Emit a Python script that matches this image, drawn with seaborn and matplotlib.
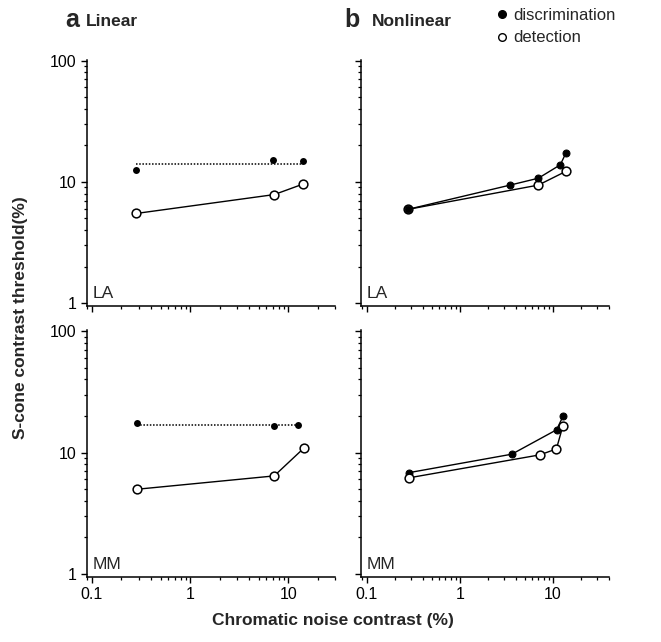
import numpy as np
import pandas as pd
import matplotlib
matplotlib.use('Agg')
import matplotlib.pyplot as plt
import seaborn as sns
from matplotlib.ticker import FuncFormatter, LogLocator, NullFormatter
from matplotlib.lines import Line2D

# ---------------- data ----------------
la_lin_disc_x = [0.283, 7.08, 14.3]
la_lin_disc_y = [12.4, 15.1, 14.7]
la_lin_fit_x = [0.283, 14.3]
la_lin_fit_y = [13.9, 13.9]
la_lin_det_x = [0.283, 7.2, 14.3]
la_lin_det_y = [5.48, 7.84, 9.6]

la_non_disc_x = [0.277, 3.47, 6.97, 12.0, 13.8]
la_non_disc_y = [5.92, 9.39, 10.7, 13.8, 17.3]
la_non_det_x = [0.277, 6.97, 13.8]
la_non_det_y = [5.92, 9.39, 12.2]

mm_lin_disc_x = [0.291, 7.2, 12.6]
mm_lin_disc_y = [17.5, 16.4, 16.8]
mm_lin_fit_x = [0.291, 12.6]
mm_lin_fit_y = [16.9, 16.9]
mm_lin_det_x = [0.291, 7.2, 14.5]
mm_lin_det_y = [4.99, 6.42, 10.9]

mm_non_disc_x = [0.288, 3.62, 10.96, 12.8]
mm_non_disc_y = [6.84, 9.69, 15.4, 19.8]
mm_non_det_x = [0.288, 7.25, 10.9, 12.8]
mm_non_det_y = [6.2, 9.57, 10.7, 16.6]

x_ticks = [0.1, 1, 10]
y_ticks = [1, 10, 100]

sns.set_style('ticks')
plt.rcParams['font.family'] = ['Liberation Sans', 'DejaVu Sans']

W, H = 661, 642
fig = plt.figure(figsize=(W / 100, H / 100), dpi=100)


def ax_at(x0, y0, x1, y1):
    return fig.add_axes([x0 / W, 1 - y1 / H, (x1 - x0) / W, (y1 - y0) / H])


axes = {
    'la_lin': ax_at(87, 59.5, 335, 306),
    'la_non': ax_at(361, 59.5, 609, 306),
    'mm_lin': ax_at(87, 330, 335, 577),
    'mm_non': ax_at(361, 330, 609, 577),
}

LW = 1.0
OPEN_MS = 6.3
FILL_MS = 5.0


def det_line(ax, x, y, z=3):
    df = pd.DataFrame({'x': x, 'y': y})
    sns.lineplot(data=df, x='x', y='y', ax=ax, sort=False, estimator=None,
                 color='black', lw=LW, marker='o', markersize=OPEN_MS,
                 markerfacecolor='white', markeredgecolor='black',
                 markeredgewidth=1.1, zorder=z)


def disc_line(ax, x, y, z=3):
    df = pd.DataFrame({'x': x, 'y': y})
    sns.lineplot(data=df, x='x', y='y', ax=ax, sort=False, estimator=None,
                 color='black', lw=LW, marker='o', markersize=FILL_MS,
                 markerfacecolor='black', markeredgecolor='black', zorder=z)


def disc_points(ax, x, y):
    df = pd.DataFrame({'x': x, 'y': y})
    sns.scatterplot(data=df, x='x', y='y', ax=ax, color='black', s=FILL_MS ** 2,
                    edgecolor='black', linewidth=0, zorder=4)


def fit_line(ax, x, y):
    df = pd.DataFrame({'x': x, 'y': y})
    sns.lineplot(data=df, x='x', y='y', ax=ax, sort=False, estimator=None,
                 color='black', lw=1.1, linestyle=(0, (1, 1.1)), zorder=2)


# Linear LA
ax = axes['la_lin']
fit_line(ax, la_lin_fit_x, la_lin_fit_y)
disc_points(ax, la_lin_disc_x, la_lin_disc_y)
det_line(ax, la_lin_det_x, la_lin_det_y)

# Nonlinear LA
ax = axes['la_non']
det_line(ax, la_non_det_x, la_non_det_y, z=3)
disc_line(ax, la_non_disc_x, la_non_disc_y, z=4)

# Linear MM
ax = axes['mm_lin']
fit_line(ax, mm_lin_fit_x, mm_lin_fit_y)
disc_points(ax, mm_lin_disc_x, mm_lin_disc_y)
det_line(ax, mm_lin_det_x, mm_lin_det_y)

# Nonlinear MM
ax = axes['mm_non']
disc_line(ax, mm_non_disc_x, mm_non_disc_y, z=3)
det_line(ax, mm_non_det_x, mm_non_det_y, z=4)

fmt = FuncFormatter(lambda v, p: ('%g' % v))
for key, ax in axes.items():
    ax.set_xscale('log')
    ax.set_yscale('log')
    if key.endswith('lin'):
        ax.set_xlim(0.089, 30)
    else:
        ax.set_xlim(0.087, 40)
    ax.set_ylim(0.945, 102)
    ax.set_xticks(x_ticks)
    ax.set_yticks(y_ticks)
    ax.xaxis.set_minor_locator(LogLocator(base=10, subs=np.arange(2, 10)))
    ax.yaxis.set_minor_locator(LogLocator(base=10, subs=np.arange(2, 10)))
    ax.xaxis.set_minor_formatter(NullFormatter())
    ax.yaxis.set_minor_formatter(NullFormatter())
    ax.set_xlabel('')
    ax.set_ylabel('')
    for s in ['top', 'right']:
        ax.spines[s].set_visible(False)
    for s in ['left', 'bottom']:
        ax.spines[s].set_linewidth(1.1)
        ax.spines[s].set_color('black')
    ax.tick_params(which='major', direction='out', length=4.5, width=1.0,
                   colors='black', labelsize=11.5, pad=3)
    ax.tick_params(which='minor', direction='out', length=2.5, width=0.9,
                   colors='black')
    if key.startswith('mm'):
        ax.xaxis.set_major_formatter(fmt)
    else:
        ax.xaxis.set_major_formatter(NullFormatter())
    if key.endswith('lin'):
        ax.yaxis.set_major_formatter(fmt)
    else:
        ax.yaxis.set_major_formatter(NullFormatter())
    ax.set_facecolor('white')

for key, lab in [('la_lin', 'LA'), ('la_non', 'LA'), ('mm_lin', 'MM'), ('mm_non', 'MM')]:
    axes[key].text(0.022, 0.02, lab, transform=axes[key].transAxes,
                   fontsize=12.5, ha='left', va='bottom')

# headers
fig.text(72 / W, 1 - 20 / H, 'a', fontsize=18, fontweight='bold', ha='center', va='center')
fig.text(86 / W, 1 - 21 / H, 'Linear', fontsize=12.5, fontweight='bold', ha='left', va='center')
fig.text(352 / W, 1 - 20 / H, 'b', fontsize=18, fontweight='bold', ha='center', va='center')
fig.text(372 / W, 1 - 21 / H, 'Nonlinear', fontsize=12.5, fontweight='bold', ha='left', va='center')

handles = [Line2D([], [], ls='none', marker='o', markersize=5.5, markerfacecolor='black',
                  markeredgecolor='black'),
           Line2D([], [], ls='none', marker='o', markersize=5.5, markerfacecolor='white',
                  markeredgecolor='black', markeredgewidth=1.0)]
fig.legend(handles, ['discrimination', 'detection'], loc='upper left',
           bbox_to_anchor=(497 / W, 1 - 8 / H), frameon=False, fontsize=12,
           handlelength=0.6, handletextpad=0.4, labelspacing=0.45, borderpad=0.0,
           borderaxespad=0.0)

fig.text(21 / W, 1 - 318 / H, 'S-cone contrast threshold(%)', rotation=90,
         fontsize=12.5, fontweight='bold', ha='center', va='center')
fig.text(333 / W, 1 - 621 / H, 'Chromatic noise contrast (%)',
         fontsize=12.5, fontweight='bold', ha='center', va='center')

fig.savefig('out.png', dpi=100, facecolor='white')
